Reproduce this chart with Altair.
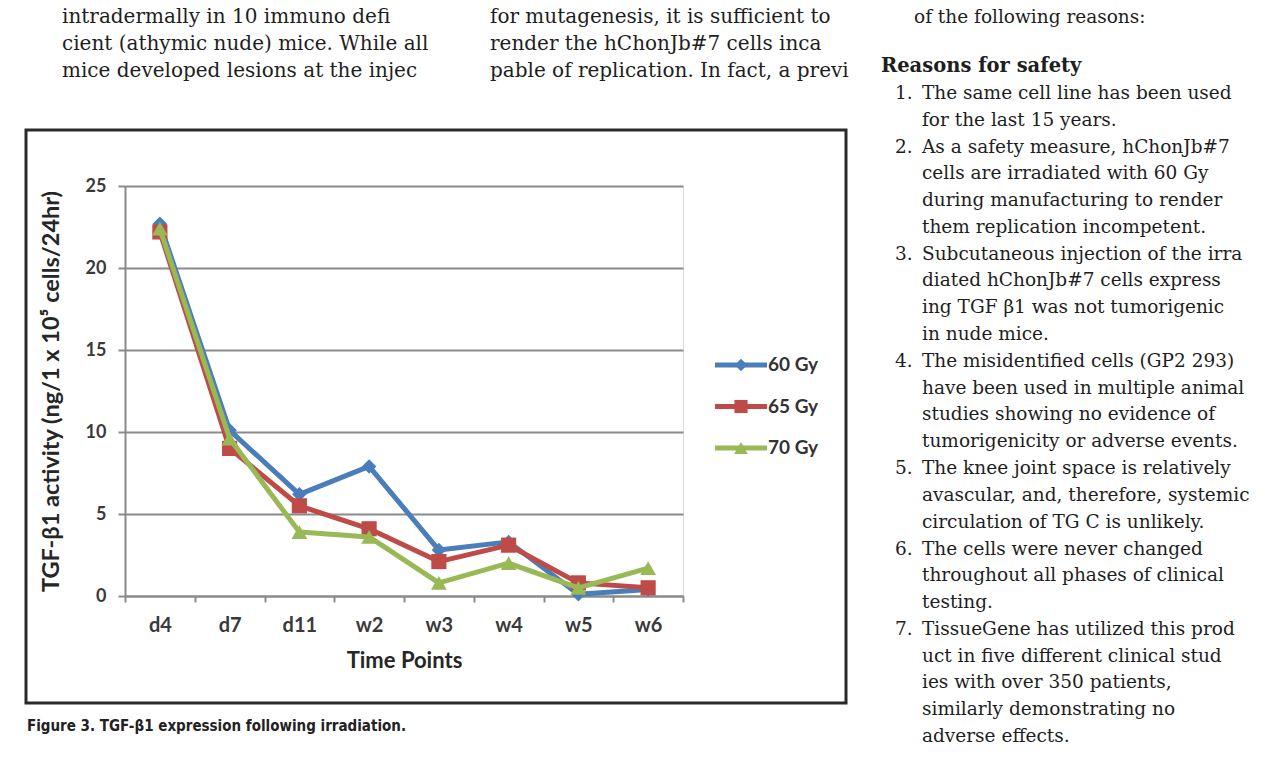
import altair as alt
import pandas as pd

# ---------------- data ----------------
times = ["d4", "d7", "d11", "w2", "w3", "w4", "w5", "w6"]
series = ["60 Gy", "65 Gy", "70 Gy"]
gy60 = [22.7, 10.1, 6.2, 7.9, 2.8, 3.3, 0.1, 0.4]
gy65 = [22.2, 9.0, 5.5, 4.1, 2.1, 3.1, 0.8, 0.5]
gy70 = [22.4, 9.6, 3.9, 3.6, 0.8, 2.0, 0.5, 1.7]
y_ticks = [0, 5, 10, 15, 20, 25]

colors = ["#4a7ebb", "#be4b48", "#98b954"]
shapes = ["diamond", "square", "triangle-up"]
sizes = [210, 230, 250]

x_title = "Time Points"
y_title = "TGF-\u03b21 activity (ng/1 x 10\u2075 cells/24hr)"
caption = "Figure 3. TGF-\u03b21 expression following irradiation."

left_col = [
    "intradermally in 10 immuno defi",
    "cient (athymic nude) mice. While all",
    "mice developed lesions at the injec",
]
mid_col = [
    "for mutagenesis, it is sufficient to",
    "render the hChonJb#7 cells inca",
    "pable of replication. In fact, a previ",
]
right_top = "of the following reasons:"
heading = "Reasons for safety"
items = [
    ["The same cell line has been used", "for the last 15 years."],
    ["As a safety measure, hChonJb#7", "cells are irradiated with 60 Gy",
     "during manufacturing to render", "them replication incompetent."],
    ["Subcutaneous injection of the irra", "diated hChonJb#7 cells express",
     "ing TGF \u03b21 was not tumorigenic", "in nude mice."],
    ["The misidentified cells (GP2 293)", "have been used in multiple animal",
     "studies showing no evidence of", "tumorigenicity or adverse events."],
    ["The knee joint space is relatively", "avascular, and, therefore, systemic",
     "circulation of TG C is unlikely."],
    ["The cells were never changed", "throughout all phases of clinical",
     "testing."],
    ["TissueGene has utilized this prod", "uct in five different clinical stud",
     "ies with over 350 patients,", "similarly demonstrating no",
     "adverse effects."],
]

# ---------------- table ----------------
rows = []
for s, vals in zip(series, [gy60, gy65, gy70]):
    for t, v in zip(times, vals):
        rows.append({"time": t, "series": s, "value": v})
df = pd.DataFrame(rows)

# ---------------- layout constants ----------------
W, H = 558, 410
PAD_L, PAD_T = 117, 178
LH = 26.8
ORIGIN_X, ORIGIN_Y = 125, 186


def row_y(k):
    # page y of the centre of text row k, relative to the plot origin
    return 12.5 + LH * k - ORIGIN_Y + (4.5 if k == 0 else 0)


SANS = "Lato"
SERIF = "DejaVu Serif"
BODY = 18.5
BODY_WIDE = 20

x_enc = alt.X(
    "time:N", sort=times, bandPosition=0.5,
    scale=alt.Scale(type="band", domain=times, paddingInner=0, paddingOuter=0),
    axis=alt.Axis(
        title=x_title, tickBand="extent", grid=False, labelAngle=0,
        domainColor="#8a8a8a", domainWidth=2, tickColor="#8a8a8a", tickWidth=2,
        tickSize=6, labelFont=SANS, labelFontSize=20, labelFontWeight="bold",
        labelColor="#3a3a3a", labelPadding=13, titleFont=SANS, titleFontSize=22,
        titleFontWeight="bold", titleColor="#262626", titlePadding=15,
    ),
)
y_enc = alt.Y(
    "value:Q",
    scale=alt.Scale(domain=[0, 25], nice=False, zero=True),
    axis=alt.Axis(
        title=y_title, values=y_ticks, grid=True, gridColor="#8a8a8a",
        gridWidth=2, domainColor="#8a8a8a", domainWidth=2, tickColor="#8a8a8a",
        tickWidth=2, tickSize=7, labelFont=SANS, labelFontSize=18,
        labelFontWeight="bold", labelColor="#3a3a3a", labelPadding=12,
        titleFont=SANS, titleFontSize=23.5, titleFontWeight="bold",
        titleColor="#262626", titleX=51 - ORIGIN_X, titleY=H / 2,
        titleAngle=270, titleAlign="center", titleBaseline="middle",
    ),
)
color_enc = alt.Color("series:N", scale=alt.Scale(domain=series, range=colors), legend=None)
shape_enc = alt.Shape("series:N", scale=alt.Scale(domain=series, range=shapes), legend=None)

base = alt.Chart(df)
layers = []
for i, s in enumerate(series):
    sub = base.transform_filter(alt.datum.series == s)
    layers.append(sub.mark_line(strokeWidth=5, strokeJoin="round").encode(
        x=x_enc, y=y_enc, color=color_enc))
    layers.append(sub.mark_point(filled=True, opacity=1, size=sizes[i]).encode(
        x=x_enc, y=y_enc, color=color_enc, shape=shape_enc))

# legend (Excel style: line with marker in the middle)
for i, s in enumerate(series):
    ly = 179 + 41.5 * i
    one = alt.Chart(pd.DataFrame({"series": [s]}))
    layers.append(one.mark_rule(strokeWidth=5, color=colors[i]).encode(
        x=alt.value(590), x2=alt.value(642), y=alt.value(ly)))
    layers.append(one.mark_point(filled=True, opacity=1, size=sizes[i] * 0.75,
                                 shape=shapes[i], color=colors[i]).encode(
        x=alt.value(616), y=alt.value(ly)))
    layers.append(one.mark_text(align="left", baseline="middle", font=SANS,
                                fontSize=19, fontWeight="bold", color="#333333").encode(
        text="series:N", x=alt.value(643), y=alt.value(ly)))

# frame around the figure
frame = alt.Chart(pd.DataFrame({"a": [0]})).mark_rect(
    fillOpacity=0, stroke="#2a2a2a", strokeWidth=3).encode(
    x=alt.value(26 - ORIGIN_X), x2=alt.value(846 - ORIGIN_X),
    y=alt.value(130 - ORIGIN_Y), y2=alt.value(703 - ORIGIN_Y))
layers.append(frame)


def block(lines, x, k0, size=BODY, weight="normal", font=SERIF):
    return alt.Chart(pd.DataFrame({"t": ["\n".join(lines)]})).mark_text(
        align="left", baseline="middle", font=font, fontSize=size,
        fontWeight=weight, color="#1e1e1e", lineBreak="\n", lineHeight=LH).encode(
        text="t:N", x=alt.value(x - ORIGIN_X), y=alt.value(row_y(k0)))


layers.append(block(left_col, 62, 0, size=BODY_WIDE))
layers.append(block(mid_col, 490, 0, size=BODY_WIDE))
layers.append(block([right_top], 914, 0))
layers.append(block([heading], 881, 2, size=19.5, weight="bold"))

k = 3
for j, it in enumerate(items):
    layers.append(block([f"{j + 1}."], 895, k))
    layers.append(block(it, 922, k))
    k += len(it)

cap = alt.Chart(pd.DataFrame({"t": [caption]})).mark_text(
    align="left", baseline="middle",
    font="'Liberation Sans Narrow', 'DejaVu Sans Condensed', 'Roboto Condensed', Roboto, sans-serif",
    fontSize=15, fontWeight="bold", color="#222222").encode(
    text="t:N", x=alt.value(27 - ORIGIN_X), y=alt.value(726 - ORIGIN_Y))
layers.append(cap)

chart = alt.layer(*layers).properties(
    width=W, height=H,
    autosize=alt.AutoSizeParams(type="none"),
    padding={"left": PAD_L, "top": PAD_T, "right": 1264 - PAD_L - W, "bottom": 749 - PAD_T - H - 2},
).configure_view(stroke=None).configure(background="white")

chart.save("out.html", embed_options={"renderer": "svg", "actions": False})
